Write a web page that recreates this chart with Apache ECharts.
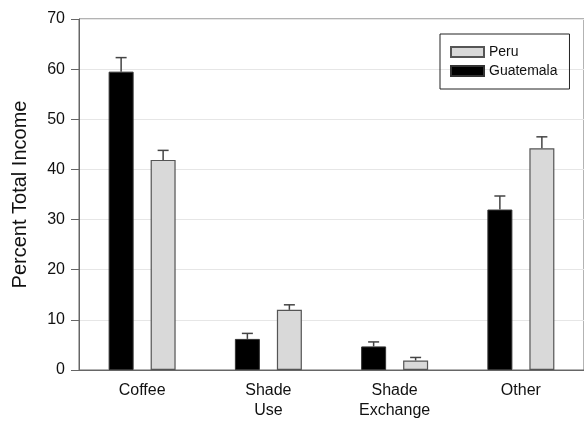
<!DOCTYPE html>
<html>
<head>
<meta charset="utf-8">
<script src="https://cdn.jsdelivr.net/npm/echarts@6/dist/echarts.min.js"></script>
<style>
  html, body { margin: 0; padding: 0; background: #fff; }
  #chart { width: 584px; height: 421px; }
</style>
</head>
<body>
<div id="chart"></div>
<script>
  // values
  var categories = ['Coffee', 'Shade\nUse', 'Shade\nExchange', 'Other']
  var guatemala = [59.5, 6.2, 4.7, 32.0]
  var guatemalaErr = [2.8, 1.1, 0.9, 2.7]
  var peru = [41.9, 12.0, 1.9, 44.2]
  var peruErr = [1.9, 1.0, 0.6, 2.3]
  var yTicks = { min: 0, max: 70, interval: 10 }

  var barW = 25
  var gapPx = 17
  var fontFam = '"Liberation Sans", Arial, sans-serif'

  // error bar (up only) drawn over each bar, shifted by offset px
  function errSeries(name, vals, errs, offset) {
    var d = []
    for (var i = 0; i < vals.length; i++) {
      d.push([i, vals[i], vals[i] + errs[i]])
    }
    return {
      name: name,
      type: 'custom',
      z: 5,
      silent: true,
      data: d,
      renderItem: function (params, api) {
        var base = api.coord([api.value(0), api.value(1)])
        var top = api.coord([api.value(0), api.value(2)])
        var x = base[0] + offset
        var st = { stroke: '#444', lineWidth: 1.5 }
        return {
          type: 'group',
          children: [
            { type: 'line', shape: { x1: x, y1: base[1], x2: x, y2: top[1] }, style: st },
            { type: 'line', shape: { x1: x - 5.5, y1: top[1], x2: x + 5.5, y2: top[1] }, style: st }
          ]
        }
      }
    }
  }

  var half = (barW + gapPx) / 2
  var myChart = echarts.init(document.getElementById('chart'))
  myChart.setOption({
    animation: false,
    textStyle: { fontFamily: fontFam },
    grid: {
      left: 79,
      top: 19,
      width: 506,
      bottom: 46,
      show: true,
      borderColor: '#666',
      borderWidth: 1
    },
    legend: {
      data: ['Peru', 'Guatemala'],
      orient: 'vertical',
      left: 440,
      top: 34,
      width: 129,
      padding: [11, 12, 11, 10],
      itemWidth: 33,
      itemHeight: 10,
      itemGap: 5,
      borderColor: '#222',
      borderWidth: 1,
      icon: 'rect',
      textStyle: { fontSize: 14, color: '#111', fontFamily: fontFam }
    },
    xAxis: {
      type: 'category',
      data: categories,
      axisLine: { lineStyle: { color: '#666', width: 1 } },
      axisTick: { show: false },
      axisLabel: { fontSize: 16, color: '#111', lineHeight: 20, margin: 11, fontFamily: fontFam },
      splitLine: { show: false }
    },
    yAxis: {
      type: 'value',
      min: yTicks.min,
      max: yTicks.max,
      interval: yTicks.interval,
      name: 'Percent Total Income',
      nameLocation: 'middle',
      nameGap: 49,
      nameTextStyle: { fontSize: 20, color: '#111', fontFamily: fontFam },
      axisLine: { show: true, lineStyle: { color: '#666', width: 1 } },
      axisTick: { show: true, length: 8, lineStyle: { color: '#666' } },
      axisLabel: { fontSize: 16, color: '#111', margin: 14, fontFamily: fontFam },
      splitLine: { show: true, lineStyle: { color: '#e6e6e6', width: 1 } }
    },
    series: [
      {
        name: 'Guatemala',
        type: 'bar',
        barWidth: barW,
        barGap: (gapPx / barW * 100) + '%',
        itemStyle: { color: '#000', borderColor: '#333', borderWidth: 1 },
        data: guatemala
      },
      {
        name: 'Peru',
        type: 'bar',
        barWidth: barW,
        itemStyle: { color: '#d9d9d9', borderColor: '#555', borderWidth: 1.2 },
        data: peru
      },
      errSeries('GuatemalaErr', guatemala, guatemalaErr, -half),
      errSeries('PeruErr', peru, peruErr, half)
    ]
  })
</script>
</body>
</html>
